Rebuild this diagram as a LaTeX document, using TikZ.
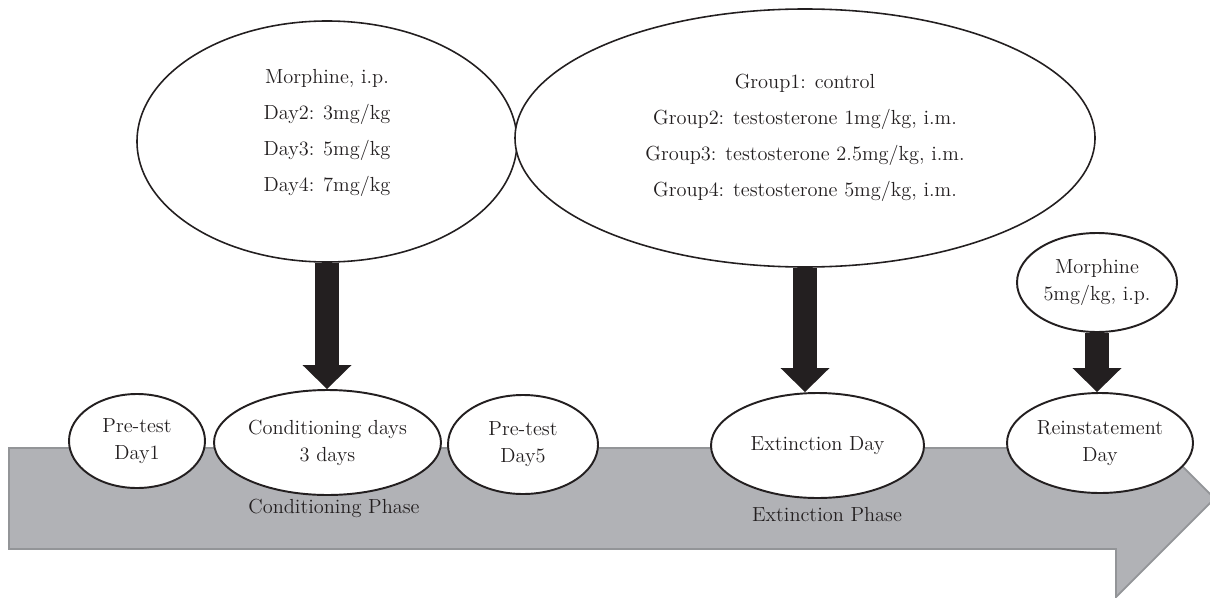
\documentclass[tikz,border=0pt]{standalone}
\usepackage{tikz}
\usetikzlibrary{arrows.meta,shapes.geometric}
\definecolor{Band}{HTML}{B1B2B6}
\definecolor{BandEdge}{HTML}{939598}
\definecolor{Ink}{HTML}{231F20}

\begin{document}
\begin{tikzpicture}[
      day/.style={ellipse,draw=Ink,line width=1.1pt,fill=white,inner sep=0pt,
        align=center,text=Ink,font=\fontsize{11.6}{15.4}\selectfont},
      dose/.style={ellipse,draw=Ink,line width=0.9pt,fill=white,inner sep=0pt,
        align=center,text=Ink,font=\fontsize{11.6}{20.5}\selectfont},
      phase/.style={text=Ink,font=\fontsize{11.6}{13}\selectfont},
      push/.style={Ink,line width=0.48cm,
        -{Triangle[width=0.98cm,length=0.48cm,line width=0pt]}}]
      \useasboundingbox (0,0) rectangle (24.2,11.94);
      % timeline band
      \draw[BandEdge,fill=Band,line width=1pt] (0.18,0.96) -- (22.32,0.96) -- (22.32,0)
        -- (24.29,1.97) -- (22.32,3.94) -- (22.32,2.98) -- (0.18,2.98) -- cycle;
      \node[phase] (condph) at (6.68,1.78) {Conditioning Phase};
      \node[phase] (extph) at (16.54,1.64) {Extinction Phase};
      % days on the timeline
      \node[day,minimum width=2.72cm,minimum height=1.88cm] (pre1) at (2.74,3.12) {Pre-test\\Day1};
      \node[day,minimum width=4.54cm,minimum height=2.10cm] (cond) at (6.55,3.09) {Conditioning days\\3 days};
      \node[day,minimum width=3.00cm,minimum height=1.98cm] (pre5) at (10.46,3.05) {Pre-test\\Day5};
      \node[day,minimum width=4.26cm,minimum height=2.10cm] (ext) at (16.35,3.03) {Extinction Day};
      \node[day,minimum width=3.72cm,minimum height=2.00cm] (reinst) at (22.0,3.08) {Reinstatement\\Day};
      % treatments
      \node[dose,minimum width=7.6cm,minimum height=4.82cm] (morph) at (6.54,9.11)
        {Morphine, i.p.\\Day2: 3mg/kg\\Day3: 5mg/kg\\Day4: 7mg/kg\\[-8pt]};
      \node[dose,minimum width=11.6cm,minimum height=5.16cm] (grp) at (16.10,9.18)
        {Group1: control\\Group2: testosterone 1mg/kg, i.m.\\Group3: testosterone 2.5mg/kg, i.m.\\Group4: testosterone 5mg/kg, i.m.};
      \node[day,minimum width=3.2cm,minimum height=1.98cm] (morph2) at (21.94,6.29) {Morphine\\5mg/kg, i.p.};
      \draw[push] (morph.south) -- (morph.south |- cond.north);
      \draw[push] (grp.south) -- (grp.south |- ext.north);
      \draw[push] (morph2.south) -- (morph2.south |- reinst.north);
    \end{tikzpicture}
\end{document}
